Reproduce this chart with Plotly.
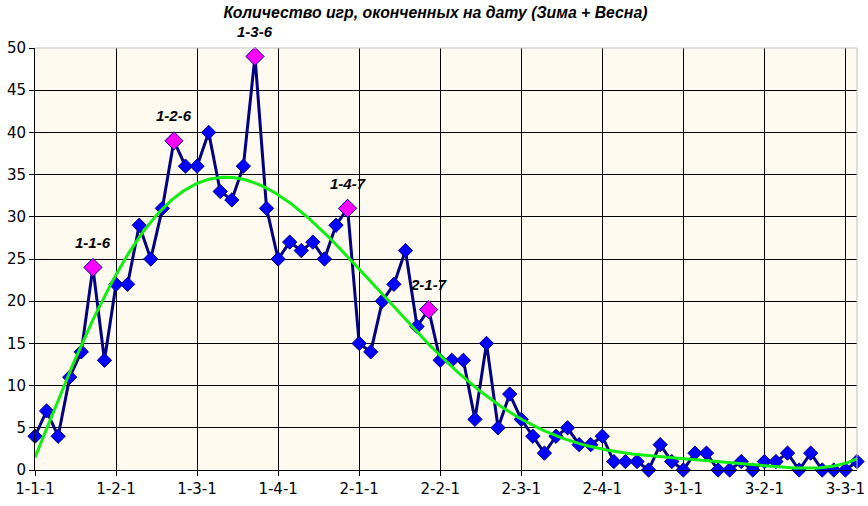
import numpy as np
import plotly.graph_objects as go

categories = [
    "1-1-1", "1-1-2", "1-1-3", "1-1-4", "1-1-5", "1-1-6", "1-1-7",
    "1-2-1", "1-2-2", "1-2-3", "1-2-4", "1-2-5", "1-2-6", "1-2-7",
    "1-3-1", "1-3-2", "1-3-3", "1-3-4", "1-3-5", "1-3-6", "1-3-7",
    "1-4-1", "1-4-2", "1-4-3", "1-4-4", "1-4-5", "1-4-6", "1-4-7",
    "2-1-1", "2-1-2", "2-1-3", "2-1-4", "2-1-5", "2-1-6", "2-1-7",
    "2-2-1", "2-2-2", "2-2-3", "2-2-4", "2-2-5", "2-2-6", "2-2-7",
    "2-3-1", "2-3-2", "2-3-3", "2-3-4", "2-3-5", "2-3-6", "2-3-7",
    "2-4-1", "2-4-2", "2-4-3", "2-4-4", "2-4-5", "2-4-6", "2-4-7",
    "3-1-1", "3-1-2", "3-1-3", "3-1-4", "3-1-5", "3-1-6", "3-1-7",
    "3-2-1", "3-2-2", "3-2-3", "3-2-4", "3-2-5", "3-2-6", "3-2-7",
    "3-3-1", "3-3-2",
]

games = [
    4, 7, 4, 11, 14, 24, 13,
    22, 22, 29, 25, 31, 39, 36,
    36, 40, 33, 32, 36, 49, 31,
    25, 27, 26, 27, 25, 29, 31,
    15, 14, 20, 22, 26, 17, 19,
    13, 13, 13, 6, 15, 5, 9,
    6, 4, 2, 4, 5, 3, 3,
    4, 1, 1, 1, 0, 3, 1,
    0, 2, 2, 0, 0, 1, 0,
    1, 1, 2, 0, 2, 0, 0,
    0, 1,
]

highlight_labels = ["1-1-6", "1-2-6", "1-3-6", "1-4-7", "2-1-7"]

tick_labels = ["1-1-1", "1-2-1", "1-3-1", "1-4-1", "2-1-1", "2-2-1",
               "2-3-1", "2-4-1", "3-1-1", "3-2-1", "3-3-1"]
y_ticks = [0, 5, 10, 15, 20, 25, 30, 35, 40, 45, 50]

title_text = "Количество игр, оконченных на дату (Зима + Весна)"

x_idx = np.arange(len(categories))
hi_idx = [categories.index(c) for c in highlight_labels]
hi_vals = [games[i] for i in hi_idx]

# Polynomial (order 6) trend line, as in Excel's trendline
poly = np.polynomial.Polynomial.fit(x_idx + 1, games, 6)
x_fine = np.linspace(0, len(categories) - 1, 400)
y_fine = poly(x_fine + 1)

FONT = "Liberation Sans, Arial, sans-serif"
TICKFONT = "DejaVu Sans, Verdana, sans-serif"

fig = go.Figure()
fig.add_trace(go.Scatter(
    x=x_idx, y=games, mode="lines+markers",
    line=dict(color="#000080", width=3),
    marker=dict(symbol="diamond", size=11, color="#0000FF",
                line=dict(color="#000080", width=1)),
    cliponaxis=False, showlegend=False,
))
fig.add_trace(go.Scatter(
    x=x_fine, y=y_fine, mode="lines",
    line=dict(color="#11EE11", width=3),
    cliponaxis=False, showlegend=False,
))
fig.add_trace(go.Scatter(
    x=hi_idx, y=hi_vals, mode="markers",
    marker=dict(symbol="diamond", size=14, color="#FF00FF",
                line=dict(color="#000080", width=1)),
    cliponaxis=False, showlegend=False,
))

for i, lab in zip(hi_idx, highlight_labels):
    fig.add_annotation(
        x=i, y=games[i], text="<b><i>" + lab + "</i></b>",
        showarrow=False, yshift=25,
        font=dict(family=FONT, size=15, color="black"),
    )

fig.add_shape(type="path", xref="paper", yref="paper",
              path="M 0,1 L 1,1 L 1,0",
              line=dict(color="#C0C0C0", width=1), layer="above")

fig.update_layout(
    width=868, height=506,
    margin=dict(l=35, r=11, t=48, b=36, autoexpand=False),
    paper_bgcolor="white",
    plot_bgcolor="#FFFAEF",
    title=dict(text="<b><i>" + title_text + "</i></b>",
               x=435.5 / 868, xanchor="center", y=1 - 12 / 506, yanchor="middle",
               font=dict(family=FONT, size=15.8, color="black")),
    xaxis=dict(
        range=[0, len(categories) - 1],
        tickvals=[categories.index(t) for t in tick_labels],
        ticktext=tick_labels,
        showgrid=True, gridcolor="black", gridwidth=1,
        showline=True, linecolor="black", linewidth=1,
        ticks="outside", ticklen=5, tickcolor="black",
        tickfont=dict(family=TICKFONT, size=15, color="black"),
        zeroline=False, automargin=False,
    ),
    yaxis=dict(
        range=[0, 50],
        tickvals=y_ticks,
        showgrid=True, gridcolor="black", gridwidth=1,
        showline=True, linecolor="black", linewidth=1,
        ticks="outside", ticklen=5, tickcolor="black",
        tickfont=dict(family=TICKFONT, size=15, color="black"),
        zeroline=False, automargin=False,
    ),
)

fig.write_html("out.html", config={"displayModeBar": False},
               post_script="document.body.style.margin='0';")
